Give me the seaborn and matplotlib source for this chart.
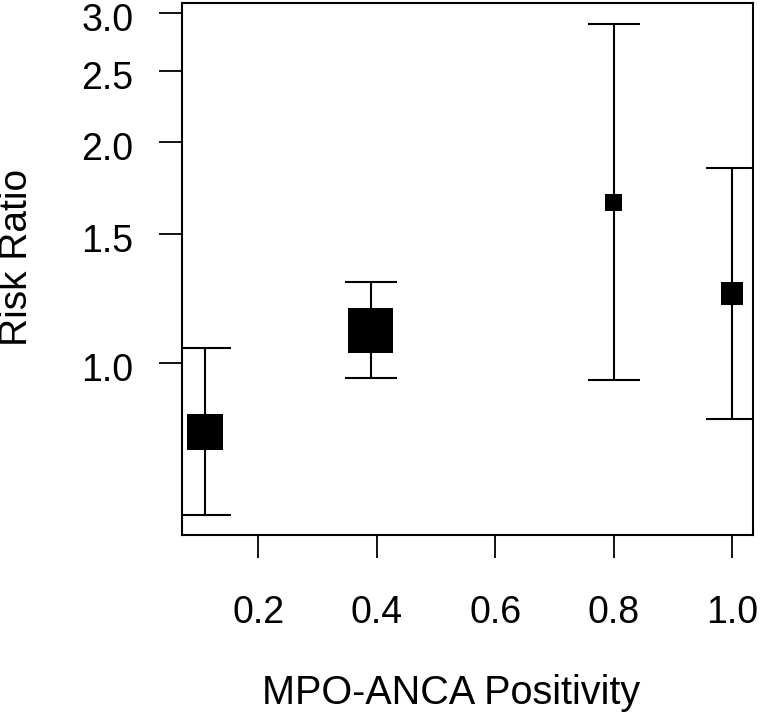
import numpy as np
import pandas as pd
import matplotlib
matplotlib.use("Agg")
import matplotlib.pyplot as plt
import matplotlib.ticker as mticker
import matplotlib.transforms as mtransforms
import seaborn as sns

# ---- data ----
positivity = [0.11, 0.39, 0.80, 1.00]
risk_ratio = [0.806, 1.109, 1.657, 1.245]
ci_lower = [0.620, 0.954, 0.947, 0.840]
ci_upper = [1.048, 1.290, 2.904, 1.848]
weight = [26.4, 32.2, 12.6, 16.2]      # relative marker weight (square side)
y_ticks = [1.0, 1.5, 2.0, 2.5, 3.0]
x_ticks = [0.2, 0.4, 0.6, 0.8, 1.0]

df = pd.DataFrame({
    "x": positivity,
    "rr": risk_ratio,
    "lo": ci_lower,
    "hi": ci_upper,
    "area": np.array(weight) ** 2,
})

sns.set_theme(style="ticks")
plt.rcParams["font.family"] = ["Liberation Sans", "DejaVu Sans"]

fig = plt.figure(figsize=(7.6, 7.18), dpi=100)
ax = fig.add_axes([182.3 / 760, 1 - 535 / 718, (752.7 - 182.3) / 760, (535 - 3) / 718])

yerr = np.vstack([df["rr"] - df["lo"], df["hi"] - df["rr"]])
ax.errorbar(df["x"], df["rr"], yerr=yerr, fmt="none", ecolor="black",
            elinewidth=1.5, capsize=18.6, capthick=1.5, zorder=2)

sns.scatterplot(data=df, x="x", y="rr", size="area",
                sizes=(df["area"].min(), df["area"].max()),
                marker="s", color="black", linewidth=0, edgecolor="none",
                legend=False, ax=ax, zorder=3)

ax.set_yscale("log")
ax.set_xlim(0.0719, 1.0346)
ax.set_ylim(0.583, 3.098)
ax.yaxis.set_major_locator(mticker.FixedLocator(y_ticks))
ax.yaxis.set_major_formatter(mticker.FixedFormatter([f"{v:.1f}" for v in y_ticks]))
ax.yaxis.set_minor_locator(mticker.NullLocator())
ax.xaxis.set_major_locator(mticker.FixedLocator(x_ticks))
ax.xaxis.set_major_formatter(mticker.FixedFormatter([f"{v:.1f}" for v in x_ticks]))

for s in ax.spines.values():
    s.set_visible(True)
    s.set_linewidth(1.5)
    s.set_color("black")

ax.tick_params(axis="both", which="major", direction="out", length=16.5,
               width=1.3, color="black", labelsize=27, labelcolor="black")
ax.tick_params(axis="x", pad=26.5)
ax.tick_params(axis="y", pad=18.5)

ax.set_xlabel("MPO-ANCA Positivity", fontsize=28.5, color="black")
ax.set_ylabel("Risk Ratio", fontsize=28, color="black")
ax.xaxis.label.set_va("center")
ax.yaxis.label.set_va("center")
ax.xaxis.set_label_coords((451.5 - 182.3) / 570.4, (535 - 692.5) / 532)
ax.yaxis.set_label_coords((17.5 - 182.3) / 570.4, (535 - 257.5) / 532)
ax.grid(False)
ax.set_facecolor("white")
fig.patch.set_facecolor("white")

# shift y tick labels slightly downward, as in the reference
offset = mtransforms.ScaledTranslation(0, -4 / 100, fig.dpi_scale_trans)
for tick in ax.yaxis.get_major_ticks():
    tick.label1.set_transform(tick.label1.get_transform() + offset)

fig.savefig("out.png", dpi=100)
